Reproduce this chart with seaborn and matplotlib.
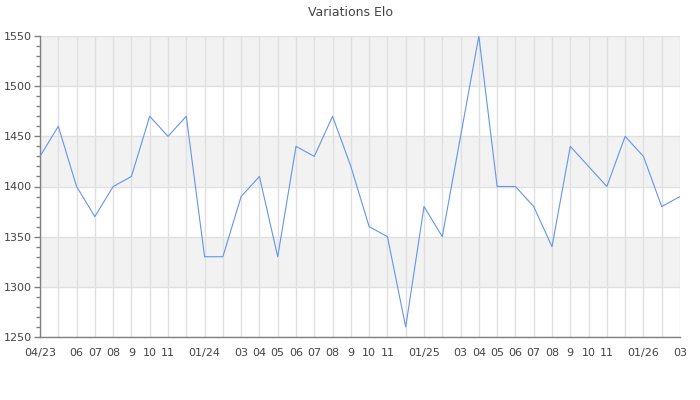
import matplotlib
matplotlib.use("Agg")
import matplotlib.pyplot as plt
import seaborn as sns
import numpy as np
import pandas as pd
from matplotlib.ticker import MultipleLocator

# monthly elo, 04/23 -> 03/26
mois = ['04/23', '', '06', '07', '08', '9', '10', '11', '', '01/24', '',
        '03', '04', '05', '06', '07', '08', '9', '10', '11', '', '01/25', '',
        '03', '04', '05', '06', '07', '08', '9', '10', '11', '', '01/26', '', '03']
elo = [1430, 1460, 1400, 1370, 1400, 1410, 1470, 1450, 1470, 1330, 1330,
       1390, 1410, 1330, 1440, 1430, 1470, 1420, 1360, 1350, 1260, 1380, 1350,
       1450, 1550, 1400, 1400, 1380, 1340, 1440, 1420, 1400, 1450, 1430, 1380, 1390]

df = pd.DataFrame({'idx': np.arange(len(elo)), 'elo': elo})

sns.set_style("white")
plt.rcParams['font.family'] = ['DejaVu Sans']
txt = '#444444'

fig = plt.figure(figsize=(7, 4), dpi=100)
ax = fig.add_axes([40/700, 63/400, 640/700, 301/400])

# bandes grises
for lo in (1300, 1400, 1500):
    ax.axhspan(lo, lo + 50, color='#f2f2f2', zorder=0, lw=0)

sns.lineplot(data=df, x='idx', y='elo', ax=ax, color='#6495ED', lw=0.8, zorder=3)

ax.set_xlim(0, len(elo) - 1)
ax.set_ylim(1250, 1550)
ax.set_xticks(df['idx'])
ax.set_xticklabels(mois)
ax.yaxis.set_major_locator(MultipleLocator(50))
ax.yaxis.set_minor_locator(MultipleLocator(10))

ax.grid(True, which='major', color='#e0e0e0', lw=1, zorder=1)
ax.set_axisbelow(True)

for s in ('top', 'right'):
    ax.spines[s].set_visible(False)
for s in ('left', 'bottom'):
    ax.spines[s].set_color('#808080')
    ax.spines[s].set_linewidth(1)

ax.tick_params(axis='y', which='major', length=4, width=1, color='#808080',
               labelsize=8, labelcolor=txt, pad=2, left=True)
ax.tick_params(axis='y', which='minor', length=3, width=1, color='#808080', left=True)
ax.tick_params(axis='x', length=0, labelsize=8, labelcolor=txt, pad=8)

ax.set_xlabel('')
ax.set_ylabel('')
fig.text(0.5, 1 - 12/400, 'Variations Elo', ha='center', va='center',
         fontsize=9, color=txt)

fig.savefig('out.png', dpi=100)
